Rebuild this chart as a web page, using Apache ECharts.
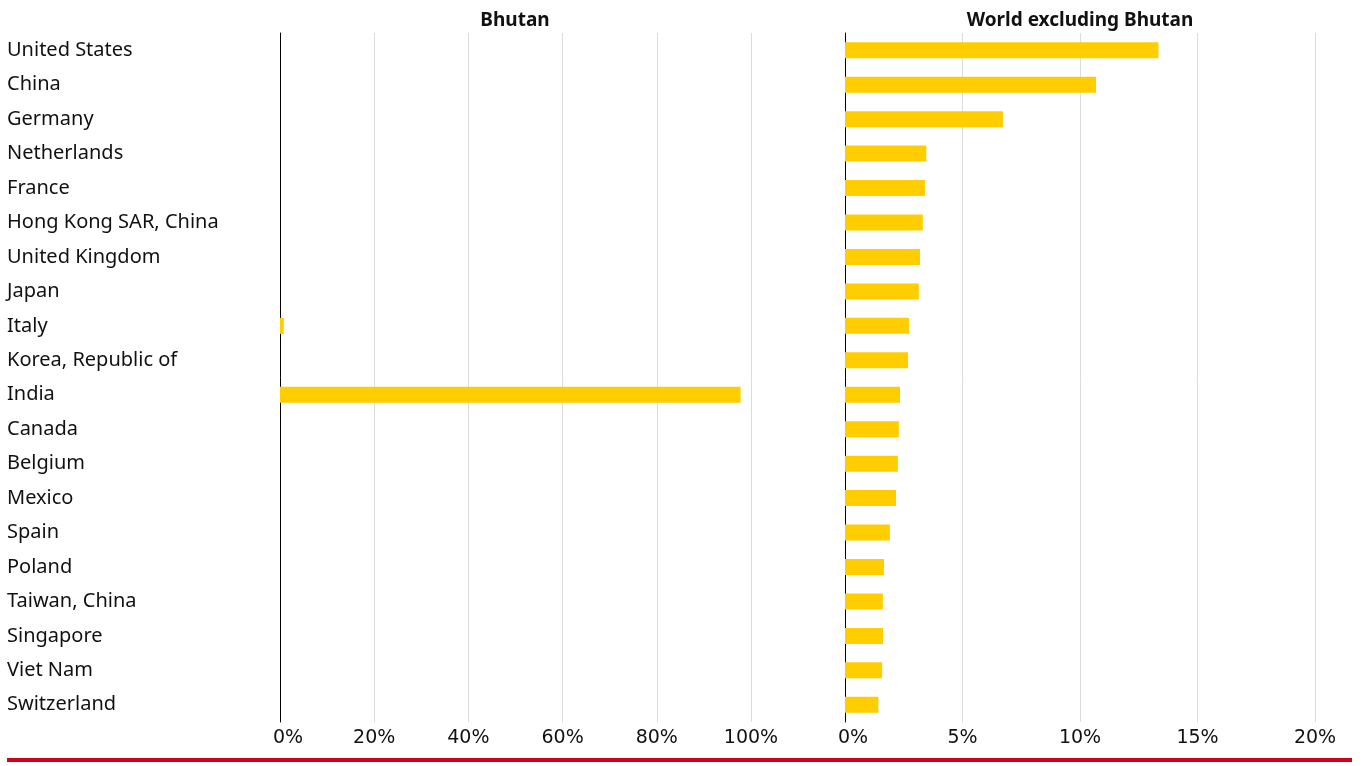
<!DOCTYPE html>
<html>
<head>
<meta charset="utf-8">
<script src="https://cdn.jsdelivr.net/npm/echarts@6/dist/echarts.min.js"></script>
<style>
  html, body { margin: 0; padding: 0; background: #fff; }
  #chart { width: 1364px; height: 766px; }
</style>
</head>
<body>
<div id="chart"></div>
<script>
const categories = [
  'United States', 'China', 'Germany', 'Netherlands', 'France',
  'Hong Kong SAR, China', 'United Kingdom', 'Japan', 'Italy', 'Korea, Republic of',
  'India', 'Canada', 'Belgium', 'Mexico', 'Spain',
  'Poland', 'Taiwan, China', 'Singapore', 'Viet Nam', 'Switzerland'
]
// share of exports, percent
const bhutanShare = [0, 0, 0, 0, 0, 0, 0, 0, 0.8, 0, 97.8, 0, 0, 0, 0, 0, 0, 0, 0, 0]
const worldShare = [13.34, 10.68, 6.72, 3.46, 3.40, 3.31, 3.19, 3.14, 2.72, 2.68,
  2.34, 2.29, 2.25, 2.17, 1.91, 1.66, 1.61, 1.62, 1.58, 1.42]
const panelTitles = ['Bhutan', 'World excluding Bhutan']

const chart = echarts.init(document.getElementById('chart'))

const barColor = '#ffcd00'
const labelFont = '"Noto Sans", sans-serif'
const tickFont = '"DejaVu Sans", sans-serif'

const catAxis = (gridIndex, showLabels) => ({
  type: 'category',
  gridIndex,
  data: categories,
  inverse: true,
  axisTick: { show: false },
  axisLine: { show: true, lineStyle: { color: '#000', width: 1 } },
  axisLabel: {
    show: showLabels,
    align: 'left',
    margin: 273,
    padding: [4, 0, 0, 0],
    color: '#111',
    fontSize: 20,
    fontFamily: labelFont
  }
})

const tickStyle = { color: '#111', fontSize: 19, fontFamily: tickFont }

const valAxis = (gridIndex, max, interval) => ({
  type: 'value',
  gridIndex,
  min: 0,
  max,
  interval,
  axisLine: { show: false },
  axisTick: { show: false },
  axisLabel: {
    ...tickStyle,
    margin: 7,
    formatter: v => v === 0 ? '{first|0%}' : v + '%',
    rich: {
      first: { ...tickStyle, padding: [0, 0, 0, 16] }
    }
  },
  splitLine: { lineStyle: { color: '#dcdcdc', width: 1 } }
})

const titleStyle = { fontSize: 19, fontWeight: 'bold', color: '#111', fontFamily: labelFont }

const option = {
  animation: false,
  backgroundColor: '#fff',
  title: [
    { text: panelTitles[0], left: 515, top: 11, textAlign: 'center', padding: 0, textStyle: titleStyle },
    { text: panelTitles[1], left: 1080, top: 11, textAlign: 'center', padding: 0, textStyle: titleStyle }
  ],
  grid: [
    { left: 280, width: 471, top: 33, bottom: 44 },
    { left: 845, width: 470, top: 33, bottom: 44 }
  ],
  xAxis: [valAxis(0, 100, 20), valAxis(1, 20, 5)],
  yAxis: [catAxis(0, true), catAxis(1, false)],
  series: [
    {
      name: panelTitles[0],
      type: 'bar',
      xAxisIndex: 0,
      yAxisIndex: 0,
      data: bhutanShare,
      barWidth: 16,
      itemStyle: { color: barColor },
      z: 1
    },
    {
      name: panelTitles[1],
      type: 'bar',
      xAxisIndex: 1,
      yAxisIndex: 1,
      data: worldShare,
      barWidth: 16,
      itemStyle: { color: barColor },
      z: 1
    }
  ],
  graphic: [
    {
      type: 'rect',
      shape: { x: 7, y: 758, width: 1345, height: 4 },
      style: { fill: '#d0021b' }
    }
  ]
}

chart.setOption(option)
window.addEventListener('resize', () => chart.resize())
</script>
</body>
</html>
